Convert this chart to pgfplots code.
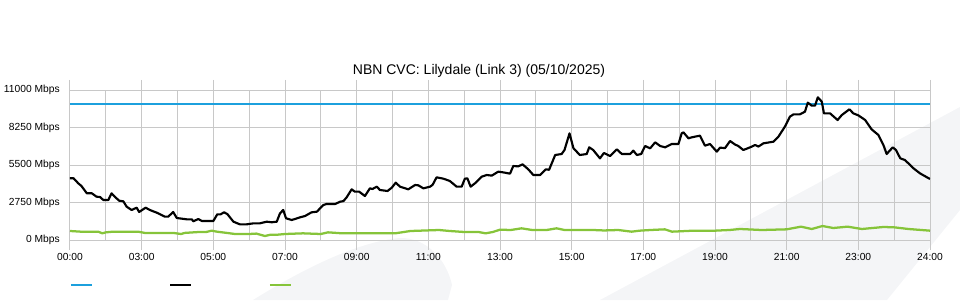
\documentclass[border=0pt]{standalone}
\usepackage{fontspec}
\setmainfont{Liberation Sans}
\usepackage{pgfplots}
\pgfplotsset{compat=1.18}
\definecolor{cblue}{RGB}{28,160,221}
\definecolor{cgreen}{RGB}{134,196,58}
\definecolor{cgrid}{RGB}{200,200,200}
\definecolor{wm}{RGB}{244,245,247}
\begin{document}
\begin{tikzpicture}
\path[use as bounding box] (0pt,0pt) rectangle (720pt,225pt);
% background watermark
\fill[wm] (450pt,0pt) -- (720pt,144.75pt) -- (720pt,67.5pt) -- (665.25pt,0pt) -- cycle;
\fill[wm] (189.75pt,0pt) .. controls (230pt,25pt) and (270pt,44pt) .. (300pt,46.5pt)
  .. controls (320pt,47pt) and (335pt,30pt) .. (339pt,11.25pt) -- (336pt,0pt) -- cycle;
\node[font=\fontsize{10.5}{12}\selectfont] at (359.25pt,171.75pt) {NBN CVC: Lilydale (Link 3) (05/10/2025)};
\begin{axis}[
  at={(52.5pt,45pt)}, anchor=south west,
  scale only axis, width=645pt, height=112.5pt,
  xmin=0, xmax=24, ymin=0, ymax=11000,
  scaled y ticks=false,
  xtick={0,2,...,24},
  xticklabels={00:00,03:00,05:00,07:00,09:00,11:00,13:00,15:00,17:00,19:00,21:00,23:00,24:00},
  minor xtick={1,3,...,23},
  ytick={0,2750,5500,8250,11000},
  yticklabels={0 Mbps,2750 Mbps,5500 Mbps,8250 Mbps,11000 Mbps},
  xmajorgrids, xminorgrids, ymajorgrids,
  grid style={cgrid, line width=0.75pt},
  minor grid style={cgrid, line width=0.75pt},
  axis line style={cgrid, line width=0.75pt},
  tick align=outside, major tick length=7.5pt, minor tick length=0pt,
  ytick style={draw=none},
  xtick style={cgrid, line width=0.75pt},
  /pgf/number format/assume math mode=true,
  tick label style={font=\fontsize{7.7}{9}\selectfont},
  yticklabel style={inner sep=0pt},
  xticklabel style={inner sep=0pt, yshift=-2pt},
  legend columns=3,
  legend style={at={(rel axis cs:0,-0.3)}, anchor=west, draw=none, fill=none,
    inner sep=0pt, outer sep=0pt, nodes={inner sep=0pt},
    /tikz/every even column/.append style={column sep=56.25pt}},
  legend image code/.code={\draw[#1] (0pt,0pt) -- (15.75pt,0pt);},
]
\addplot[cblue, line width=1.5pt] coordinates {(0,10000) (24,10000)};
\addplot[black, line width=1.6pt, line join=round] coordinates {
(0,4525) (0.1,4525) (0.23,4158) (0.32,3960) (0.47,3424) (0.61,3424) (0.74,3177) (0.84,3150)
(0.93,2933) (1.07,2933) (1.16,3424) (1.26,3150) (1.37,2884) (1.49,2835) (1.58,2444) (1.72,2200)
(1.86,2371) (1.93,2053) (2.11,2371) (2.23,2200) (2.42,2004) (2.65,1711) (2.74,1711) (2.88,2053)
(2.98,1613) (3.26,1515) (3.40,1515) (3.44,1369) (3.58,1540) (3.68,1393) (4.0,1393) (4.11,1882)
(4.2,1882) (4.30,2029) (4.39,1906) (4.56,1344) (4.74,1149) (4.93,1149) (5.12,1222) (5.30,1222)
(5.49,1344) (5.63,1300) (5.77,1344) (5.86,1955) (5.95,2200) (6.03,1589) (6.19,1467) (6.42,1662)
(6.56,1760) (6.74,2029) (6.89,2078) (7.07,2567) (7.16,2640) (7.40,2640) (7.54,2811) (7.63,2850)
(7.72,3128) (7.86,3716) (7.95,3544) (8.07,3544) (8.23,3227) (8.37,3789) (8.44,3740) (8.56,3911)
(8.65,3667) (8.86,3593) (8.98,3838) (9.09,4203) (9.21,3911) (9.44,3716) (9.63,4033) (9.72,4010)
(9.86,3789) (10.05,3911) (10.12,4050) (10.23,4596) (10.42,4498) (10.60,4327) (10.79,3911) (10.93,3911)
(11.02,4498) (11.09,4520) (11.18,3911) (11.30,4155) (11.49,4645) (11.63,4767) (11.77,4720) (11.95,5010)
(12.09,4960) (12.28,4865) (12.37,5426) (12.51,5400) (12.63,5548) (12.79,5182) (12.93,4767) (13.12,4767)
(13.28,5182) (13.37,5150) (13.54,6233) (13.72,6306) (13.80,6600) (13.94,7822) (14.05,6722) (14.23,6233)
(14.42,6306) (14.49,6795) (14.60,6600) (14.79,5988) (14.90,6380) (15.07,6160) (15.26,6649) (15.40,6306)
(15.63,6306) (15.72,6551) (15.82,6233) (15.94,6306) (16.05,6893) (16.19,6722) (16.33,7162) (16.47,6893)
(16.61,6795) (16.79,7040) (16.98,7040) (17.07,7822) (17.12,7895) (17.26,7455) (17.35,7530) (17.58,7651)
(17.72,6918) (17.86,7040) (18.05,6478) (18.14,6771) (18.28,6740) (18.42,7260) (18.56,7000) (18.65,6893)
(18.79,6600) (18.98,6795) (19.12,6967) (19.21,6850) (19.35,7088) (19.63,7210) (19.77,7578) (19.95,8311)
(20.09,9044) (20.19,9215) (20.37,9215) (20.51,9410) (20.59,10073) (20.70,9850) (20.79,9850) (20.87,10464)
(20.98,10147) (21.04,9288) (21.21,9288) (21.42,8800) (21.54,9166) (21.75,9582) (21.86,9288) (22.0,9142)
(22.19,8800) (22.37,8115) (22.56,7700) (22.70,6967) (22.79,6306) (22.96,6795) (23.05,6600) (23.17,5988)
(23.30,5866) (23.54,5255) (23.72,4888) (24.0,4473)
};
\addplot[cgreen, line width=1.7pt, line join=round] coordinates {
(0,660) (0.3,611) (0.8,600) (0.9,489) (1.0,560) (1.2,611) (1.9,611) (2.1,513) (2.9,513) (3.1,440)
(3.2,520) (3.6,587) (3.8,587) (3.95,684) (4.1,611) (4.4,513) (4.6,440) (5.0,440) (5.2,470) (5.44,293)
(5.6,391) (5.8,391) (6.0,440) (6.5,489) (7.0,440) (7.2,562) (7.6,489) (8.5,489) (9.1,500) (9.5,660)
(10.3,733) (10.6,660) (11.0,587) (11.4,587) (11.6,489) (11.8,587) (12.0,758) (12.3,733) (12.6,856)
(12.9,733) (13.3,733) (13.58,856) (13.8,733) (14.6,733) (14.9,700) (15.3,733) (15.67,611) (15.9,684)
(16.2,733) (16.6,782) (16.8,611) (17.4,684) (18.0,684) (18.4,733) (18.7,807) (19.3,733) (20.0,782)
(20.4,978) (20.7,807) (21.0,1026) (21.3,880) (21.7,978) (22.1,807) (22.7,954) (23.0,929) (23.4,807)
(24.0,684)
};
\legend{\mbox{},\mbox{},\mbox{}}
\end{axis}
\end{tikzpicture}
\end{document}
